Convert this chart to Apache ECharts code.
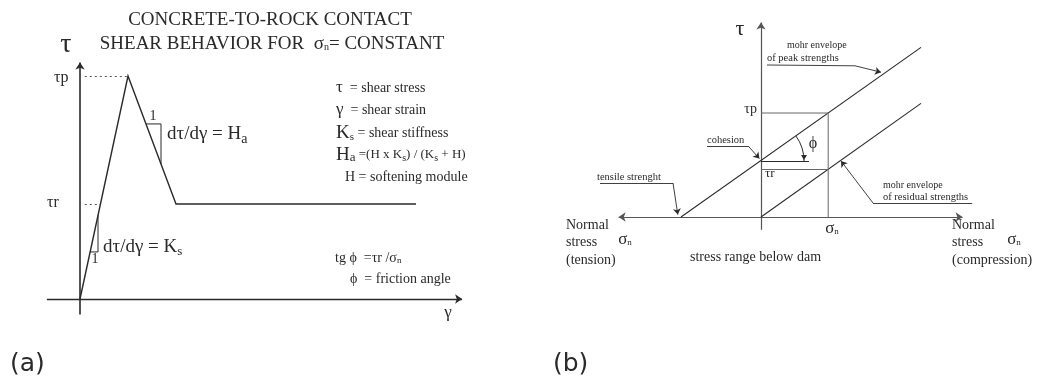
<!DOCTYPE html>
<html>
<head>
<meta charset="utf-8">
<script src="https://cdn.jsdelivr.net/npm/echarts@6/dist/echarts.min.js"></script>
<style>
  html, body { margin: 0; padding: 0; background: #fff; }
  #chart { width: 1037px; height: 378px; }
</style>
</head>
<body>
<div id="chart"></div>
<script>
// ---- panel (a): shear stress vs shear strain ----
const shearGamma = [0, 1, 2, 7];          // strain (peak at 1, softening ends at 2)
const shearTau = [0, 1, 0.426, 0.426];    // stress (tau_p = 1, tau_r = 0.426)
const tauPeakA = 1;
const tauResA = 0.426;

// ---- panel (b): Mohr envelopes ----
const peakEnvSigma = [-1, 2];
const peakEnvTau = [0, 2.12];
const resEnvSigma = [0, 2];
const resEnvTau = [0, 1.42];
const cohesion = 0.7;
const sigmaN = 0.84;
const tauPeakB = 1.30;
const tauResB = 0.60;

const SERIF = '"Liberation Serif", "DejaVu Serif", serif';
const SANS = '"DejaVu Sans", Verdana, sans-serif';
const INK = '#2a2a2a';

const chart = echarts.init(document.getElementById('chart'));

const zip = (xs, ys) => xs.map((x, i) => [x, ys[i]]);

// polylines drawn in data space (no end symbols)
function seg(grid, coords, opts) {
  opts = opts || {};
  return {
    type: 'lines',
    coordinateSystem: 'cartesian2d',
    xAxisIndex: grid,
    yAxisIndex: grid,
    polyline: coords.length > 2,
    silent: true,
    symbol: opts.symbol || 'none',
    symbolSize: opts.symbolSize || 7,
    lineStyle: {
      color: opts.color || INK,
      width: opts.width || 1.2,
      type: opts.dash || 'solid',
      opacity: 1
    },
    data: [{ coords: coords }]
  };
}

// leader: polyline body plus a final arrowed segment
function leader(grid, coords) {
  const n = coords.length;
  return [
    seg(grid, coords.slice(0, n - 1), { width: 0.9 }),
    seg(grid, coords.slice(n - 2), { width: 0.9, symbol: ['none', 'arrow'], symbolSize: 6 })
  ];
}

function txt(x, y, text, size, opts) {
  opts = opts || {};
  return {
    type: 'text',
    x: x,
    y: y,
    silent: true,
    style: {
      text: text,
      font: (opts.weight || 'normal') + ' ' + size + 'px ' + (opts.family || SERIF),
      fill: opts.color || INK,
      align: opts.align || 'left',
      verticalAlign: 'middle',
      textAlign: opts.align || 'left',
      textVerticalAlign: 'middle',
      rich: opts.rich
    }
  };
}

const base = (size) => ({ fontSize: size, fontFamily: SERIF, fill: INK });
const sub = (size) => ({ fontSize: size, fontFamily: SERIF, fill: INK, padding: [Math.round(size * 0.7), 0, 0, 0] });

const option = {
  animation: false,
  backgroundColor: '#fff',
  grid: [
    { left: 41.6, top: 53.7, width: 432, height: 267.6 },
    { left: 601, top: 17, width: 400, height: 240 }
  ],
  xAxis: [
    { type: 'value', gridIndex: 0, min: -0.8, max: 8.2, show: false },
    { type: 'value', gridIndex: 1, min: -2, max: 3, show: false }
  ],
  yAxis: [
    { type: 'value', gridIndex: 0, min: -0.1, max: 1.1, show: false },
    { type: 'value', gridIndex: 1, min: -0.5, max: 2.5, show: false }
  ],
  series: [
    // panel a axes
    seg(0, [[0, -0.07], [0, 1.06]], { symbol: ['none', 'arrow'], symbolSize: 7, width: 1.6 }),
    seg(0, [[-0.69, 0], [7.96, 0]], { symbol: ['none', 'arrow'], symbolSize: 7, width: 1.4 }),
    // guide lines
    seg(0, [[0.1, tauPeakA], [1, tauPeakA]], { dash: [2, 3], color: '#555', width: 1 }),
    seg(0, [[0.1, tauResA], [tauResA, tauResA]], { dash: [2, 3], color: '#555', width: 1 }),
    // shear curve
    seg(0, zip(shearGamma, shearTau), { width: 1.4 }),
    // slope triangles
    seg(0, [[1.375, 0.785], [1.6875, 0.785], [1.6875, 0.605]], { width: 1 }),
    seg(0, [[0.211, 0.211], [0.375, 0.211], [0.375, 0.375]], { width: 1 }),

    // panel b axes
    seg(1, [[0, -0.16], [0, 2.43]], { symbol: ['none', 'arrow'], symbolSize: 7, width: 1.2, color: '#555' }),
    seg(1, [[-1.78, 0], [2.52, 0]], { symbol: ['arrow', 'arrow'], symbolSize: 7, width: 1.2, color: '#555' }),
    // envelopes
    seg(1, zip(peakEnvSigma, peakEnvTau), { width: 1.1 }),
    seg(1, zip(resEnvSigma, resEnvTau), { width: 1.1 }),
    // construction lines
    seg(1, [[0, tauPeakB], [sigmaN, tauPeakB], [sigmaN, 0]], { width: 1, color: '#666' }),
    seg(1, [[0, tauResB], [sigmaN, tauResB]], { width: 1, color: '#666' }),
    seg(1, [[0, cohesion], [0.6, cohesion]], { width: 1 }),
    // leaders
    ...leader(1, [[-0.675, 0.8875], [-0.16, 0.8875], [-0.02, 0.73]]),
    ...leader(1, [[-2.05, 0.425], [-1.1, 0.425], [-1.04, 0.03]]),
    ...leader(1, [[0.075, 1.9], [1.175, 1.89], [1.5, 1.81]]),
    ...leader(1, [[2.64, 0.175], [1.4, 0.175], [1.0, 0.7]])
  ]
};
chart.setOption(option);

// angle arc for phi, centred on the cohesion point
const arcC = chart.convertToPixel({ gridIndex: 1 }, [0, cohesion]);
const phi = Math.atan((peakEnvTau[1] - cohesion) / (peakEnvSigma[1] - 0));
const arcR = 43;

const graphics = [
  // ---- panel (a) ----
  txt(270, 20, 'CONCRETE-TO-ROCK CONTACT', 19, { align: 'center' }),
  txt(272, 44, '{t|SHEAR BEHAVIOR FOR  σ}{s|n}{t|= CONSTANT}', 19, {
    align: 'center',
    rich: { t: base(19), s: sub(10) }
  }),
  txt(66, 45, 'τ', 28, { align: 'center' }),
  txt(54, 78, 'τp', 16),
  txt(47, 203, 'τr', 16),
  txt(153, 116, '1', 14, { align: 'center' }),
  txt(167, 134, '{t|dτ/dγ = H}{s|a}', 19, { rich: { t: base(19), s: sub(14) } }),
  txt(95, 259, '1', 14, { align: 'center' }),
  txt(103, 247, '{t|dτ/dγ = K}{s|s}', 19, { rich: { t: base(19), s: sub(13) } }),
  txt(336, 88, '{b|τ}{t|  = shear stress}', 14, { rich: { b: base(17), t: base(14) } }),
  txt(336, 110, '{b|γ}{t|  = shear strain}', 14, { rich: { b: base(17), t: base(14) } }),
  txt(336, 133, '{b|K}{s|s}{t| = shear stiffness}', 14, { rich: { b: base(19), s: sub(11), t: base(14) } }),
  txt(336, 155, '{b|H}{a|a}{t| =(H x K}{s|s}{t|) / (K}{s|s}{t| + H)}', 13, { rich: { b: base(19), a: { fontSize: 13, fontFamily: SERIF, fill: INK, padding: [6, 0, 0, 0] }, s: sub(10), t: base(13) } }),
  txt(345, 177, 'H = softening module', 14),
  txt(335, 258, '{t|tg ϕ  =τr /σ}{s|n}', 14, { rich: { t: base(14), s: sub(9) } }),
  txt(350, 279, 'ϕ  = friction angle', 14),
  txt(448, 313, 'γ', 17, { align: 'center' }),
  txt(10, 364, '(a)', 25, { family: SANS }),

  // ---- panel (b) ----
  txt(740, 29, 'τ', 22, { align: 'center' }),
  txt(787, 45, 'mohr envelope', 10),
  txt(767, 58, 'of peak strengths', 10.5),
  txt(757, 109, 'τp', 14, { align: 'right' }),
  txt(707, 140, 'cohesion', 10.5),
  txt(765, 174, 'τr', 13),
  txt(813, 144, 'ϕ', 16, { align: 'center' }),
  txt(597, 177, 'tensile strenght', 10.5),
  txt(883, 185, 'mohr envelope', 10),
  txt(883, 197, 'of residual strengths', 10.5),
  txt(832, 229, '{t|σ}{s|n}', 17, { align: 'center', rich: { t: base(17), s: sub(9) } }),
  txt(566, 225, 'Normal', 14),
  txt(566, 242, 'stress', 14),
  txt(566, 260, '(tension)', 14),
  txt(625, 240, '{t|σ}{s|n}', 17, { align: 'center', rich: { t: base(17), s: sub(9) } }),
  txt(690, 257, 'stress range below dam', 14),
  txt(952, 225, 'Normal', 14),
  txt(952, 242, 'stress', 14),
  txt(952, 260, '(compression)', 14),
  txt(1014, 240, '{t|σ}{s|n}', 17, { align: 'center', rich: { t: base(17), s: sub(9) } }),
  txt(553, 364, '(b)', 25, { family: SANS }),

  {
    type: 'arc',
    silent: true,
    shape: { cx: arcC[0], cy: arcC[1], r: arcR, startAngle: -phi, endAngle: 0, clockwise: true },
    style: { stroke: INK, lineWidth: 1, fill: null }
  },
  {
    type: 'polygon',
    silent: true,
    shape: { points: [[arcC[0] + arcR - 3, arcC[1] - 6], [arcC[0] + arcR + 3, arcC[1] - 6], [arcC[0] + arcR, arcC[1] - 1]] },
    style: { fill: INK }
  }
];

chart.setOption({ graphic: graphics });

window.addEventListener('resize', () => chart.resize());
</script>
</body>
</html>
